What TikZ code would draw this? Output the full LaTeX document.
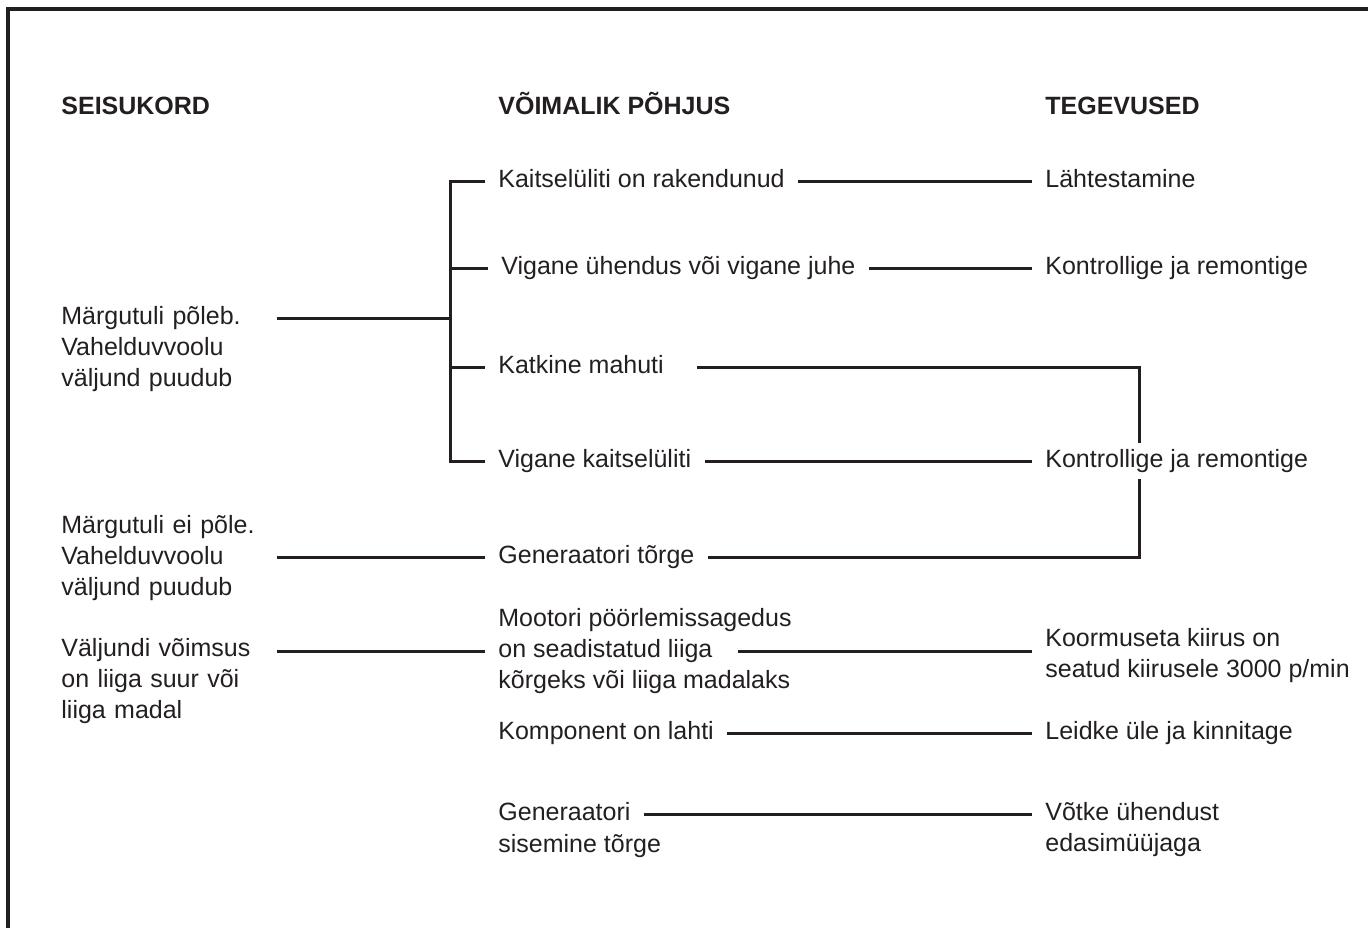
\documentclass[tikz,border=0pt]{standalone}
\usepackage{fontspec}
\setmainfont{Liberation Sans}
\definecolor{ink}{RGB}{35,31,32}

\begin{document}
\begin{tikzpicture}[x=0.5pt,y=-0.5pt]
\tikzstyle{every node}=[font=\fontsize{12.5}{15.5}\selectfont,text=ink,inner xsep=6.5pt,inner ysep=3pt,anchor=west]
\tikzstyle{one}=[text height=9pt,text depth=2.5pt]
\tikzstyle{head}=[one,font=\fontsize{12.5}{15.5}\selectfont\bfseries]
\tikzstyle{state}=[text width=101pt,align=left]
\tikzstyle{multi}=[align=left]
\tikzstyle{wire}=[draw=ink,line width=1.5pt]

\useasboundingbox (0,0) rectangle (1368,928);
\draw [ink,line width=2pt] (8,928) -- (8,9) -- (1368,9);

\node[head] (h1) at (48,108) {SEISUKORD};
\node[head] (h2) at (485,108) {VÕIMALIK PÕHJUS};
\node[head] (h3) at (1032,108) {TEGEVUSED};

\node[state] (s1) at (48,349) {Märgutuli põleb.\\Vahelduvvoolu\\väljund puudub};
\node[state] (s2) at (48,558) {Märgutuli ei põle.\\Vahelduvvoolu\\väljund puudub};
\node[state] (s3) at (48,681) {Väljundi võimsus\\on liiga suur või\\liiga madal};

\node[one] (c1) at (485,181) {Kaitselüliti on rakendunud};
\node[one] (c2) at (488,268) {Vigane ühendus või vigane juhe};
\node[one] (c3) at (485,367) {Katkine mahuti};
\node[one] (c4) at (485,461) {Vigane kaitselüliti};
\node[one] (c5) at (485,557) {Generaatori tõrge};
\node[one] (c6a) at (485,620) {Mootori pöörlemissagedus};
\node[one] (c6b) at (485,651) {on seadistatud liiga};
\node[one] (c6c) at (485,682) {kõrgeks või liiga madalaks};
\node[one] (c7) at (485,733) {Komponent on lahti};
\node[one] (c8a) at (485,814) {Generaatori};
\node[one] (c8b) at (485,846) {sisemine tõrge};

\node[one] (a1) at (1032,181) {Lähtestamine};
\node[one] (a2) at (1032,268) {Kontrollige ja remontige};
\node[one] (a3) at (1032,461) {Kontrollige ja remontige};
\node[multi] (a4) at (1032,656) {Koormuseta kiirus on\\seatud kiirusele 3000 p/min};
\node[one] (a5) at (1032,733) {Leidke üle ja kinnitage};
\node[multi] (a6) at (1032,830) {Võtke ühendust\\edasimüüjaga};

\coordinate (j) at (450,318);
\coordinate (r) at (1139,461);

% left column to causes
\path [wire] (s1.east |- j) edge (j);
\draw [wire] (c1.west) -| (j |- c4) -- (c4.west);
\path [wire] (j |- c2) edge (c2.west);
\path [wire] (j |- c3) edge (c3.west);
\path [wire] (s2.east |- c5) edge (c5.west);
\path [wire] (s3.east |- c6b) edge (c6b.west);

% causes to actions
\path [wire] (c1.east) edge (a1.west);
\path [wire] (c2.east) edge (a2.west);
\draw [wire,shorten <=10pt] (c3.east) -| (r |- a3.north);
\path [wire] (c4.east) edge (a3.west);
\draw [wire] (c5.east) -| (r |- a3.south);
\path [wire,shorten <=6pt] (c6b.east) edge (a4.west |- c6b);
\path [wire] (c7.east) edge (a5.west);
\path [wire] (c8a.east) edge (a6.west |- c8a);

\end{tikzpicture}
\end{document}
